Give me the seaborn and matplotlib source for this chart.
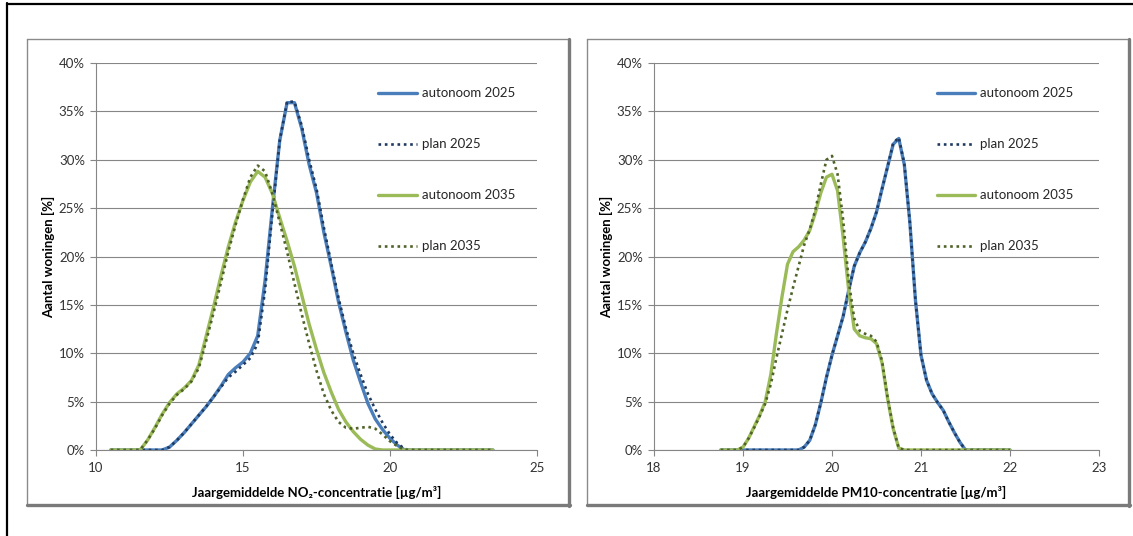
import matplotlib
matplotlib.use("Agg")
import matplotlib.pyplot as plt
from matplotlib.lines import Line2D
from matplotlib.ticker import PercentFormatter, MultipleLocator
import seaborn as sns
import pandas as pd

# NO2: klassen van 0.25 ug/m3 (10.5 .. 23.5)
x_no2 = [10.5 + 0.25 * i for i in range(53)]
no2_auto2025 = [0, 0, 0, 0, 0, 0, 0, 0, 0.3, 1.0, 1.8, 2.7, 3.6, 4.5, 5.5, 6.6, 7.8, 8.5, 9.1, 10.0,
                11.8, 17.5, 25.0, 32.0, 35.9, 35.9, 33.2, 29.5, 26.6, 22.5, 19.0, 15.3, 12.2, 9.3, 7.0, 4.8,
                3.2, 2.1, 1.2, 0.5, 0, 0, 0, 0, 0, 0, 0, 0, 0, 0, 0, 0, 0]
no2_plan2025 = [0, 0, 0, 0, 0, 0, 0, 0, 0.3, 1.0, 1.8, 2.7, 3.6, 4.5, 5.5, 6.5, 7.5, 8.1, 8.8, 9.5,
                11.0, 16.5, 24.5, 32.0, 36.0, 36.0, 33.5, 30.0, 27.0, 23.0, 19.3, 15.7, 12.6, 10.0, 7.8, 5.8,
                4.2, 2.8, 1.6, 0.7, 0.1, 0, 0, 0, 0, 0, 0, 0, 0, 0, 0, 0, 0]
no2_auto2035 = [0, 0, 0, 0, 0, 1.0, 2.3, 3.7, 4.9, 5.8, 6.4, 7.2, 8.8, 11.8, 14.8, 18.0, 21.0, 23.6, 25.8, 27.7,
                28.8, 28.2, 26.5, 24.0, 21.6, 19.0, 16.0, 13.0, 10.4, 8.0, 6.0, 4.2, 2.9, 1.9, 1.1, 0.5,
                0.1, 0, 0, 0, 0, 0, 0, 0, 0, 0, 0, 0, 0, 0, 0, 0, 0]
no2_plan2035 = [0, 0, 0, 0, 0, 1.0, 2.2, 3.6, 4.8, 5.7, 6.3, 7.1, 8.5, 11.3, 14.2, 17.3, 20.5, 23.3, 25.9, 28.2,
                29.4, 28.8, 26.5, 23.5, 20.5, 17.2, 14.0, 11.0, 8.2, 5.8, 4.1, 2.9, 2.3, 2.2, 2.3, 2.4,
                2.2, 1.6, 0.9, 0.4, 0, 0, 0, 0, 0, 0, 0, 0, 0, 0, 0, 0, 0]

# PM10: klassen van 0.0625 ug/m3 (18.75 .. 22.0)
x_pm10 = [18.75 + 0.0625 * i for i in range(53)]
pm10_auto2025 = [0] * 15 + [0.3, 1.0, 2.6, 4.9, 7.5, 9.8, 11.8, 13.8, 16.5, 19.0, 20.4, 21.5, 22.9, 24.6,
                            27.0, 29.3, 31.6, 32.2, 29.5, 23.5, 15.5, 9.8, 7.2, 5.8, 4.9, 4.1, 2.9, 1.8,
                            0.8] + [0] * 9
pm10_plan2025 = [0] * 15 + [0.3, 1.0, 2.6, 4.9, 7.5, 9.8, 11.8, 13.8, 16.5, 19.0, 20.4, 21.5, 22.9, 24.6,
                            27.0, 29.3, 31.7, 32.3, 29.6, 23.5, 15.5, 9.8, 7.2, 5.8, 4.9, 4.1, 2.9, 1.8,
                            0.8] + [0] * 9
pm10_auto2035 = [0] * 4 + [0.3, 1.2, 2.4, 3.6, 5.0, 7.8, 12.0, 15.8, 19.2, 20.5, 21.0, 21.7, 22.7, 24.5,
                           26.6, 28.2, 28.5, 26.8, 22.0, 16.5, 12.5, 11.8, 11.6, 11.5, 11.0, 9.0, 5.3, 2.2,
                           0.2] + [0] * 20
pm10_plan2035 = [0] * 4 + [0.3, 1.2, 2.3, 3.5, 4.8, 6.8, 9.5, 12.0, 14.5, 16.8, 19.0, 21.2, 22.8, 24.8,
                           27.5, 30.0, 30.4, 28.5, 23.8, 17.5, 13.6, 12.3, 12.0, 11.8, 11.2, 9.2, 5.4, 2.3,
                           0.2] + [0] * 20

labels = ["autonoom 2025", "plan 2025", "autonoom 2035", "plan 2035"]
colors = ["#4A7EBB", "#1F3A60", "#9BBB59", "#4F6228"]
styles = ["-", (0, (1, 1.4)), "-", (0, (1, 1.4))]
widths = [2.4, 1.9, 2.4, 1.9]

sns.set_theme(style="white")
plt.rcParams["font.family"] = ["Lato", "DejaVu Sans"]

W, H = 1133, 536
fig = plt.figure(figsize=(W / 100, H / 100), dpi=100)


def fx(px):
    return px / W


def fy(py):
    return 1 - py / H


def frame(x0, y0, x1, y1):
    # lichte rand links/boven, schaduw rechts/onder
    gray = "#8A8A8A"
    fig.add_artist(Line2D([fx(x0), fx(x1)], [fy(y0), fy(y0)], color=gray, lw=1.0))
    fig.add_artist(Line2D([fx(x0), fx(x0)], [fy(y0), fy(y1)], color=gray, lw=1.0))
    fig.add_artist(Line2D([fx(x1), fx(x1)], [fy(y0), fy(y1 + 1)], color="#7A7A7A", lw=2.4))
    fig.add_artist(Line2D([fx(x0), fx(x1 + 1)], [fy(y1), fy(y1)], color="#7A7A7A", lw=2.4))


# buitenkader
fig.add_artist(Line2D([fx(7), fx(7)], [fy(3), 0], color="black", lw=1.6))
fig.add_artist(Line2D([fx(7), 1], [fy(4), fy(4)], color="black", lw=1.6))

frame(27, 39, 569, 505)
frame(587, 39, 1129, 505)

panels = [
    dict(x=x_no2, series=[no2_auto2025, no2_plan2025, no2_auto2035, no2_plan2035],
         left=96, right=537, xlim=(10, 25), step=5, leg_x=0.64,
         xlabel="Jaargemiddelde NO\u2082-concentratie [µg/m³]"),
    dict(x=x_pm10, series=[pm10_auto2025, pm10_plan2025, pm10_auto2035, pm10_plan2035],
         left=654, right=1099, xlim=(18, 23), step=1, leg_x=0.635,
         xlabel="Jaargemiddelde PM10-concentratie [µg/m³]"),
]

for p in panels:
    ax = fig.add_axes([fx(p["left"]), fy(450), (p["right"] - p["left"]) / W, 387 / H])
    df = pd.DataFrame({"x": p["x"]})
    for lab, vals, c, ls, lw in zip(labels, p["series"], colors, styles, widths):
        df[lab] = vals
        sns.lineplot(data=df, x="x", y=lab, ax=ax, color=c, linestyle=ls, lw=lw, label=lab)

    ax.set_xlim(*p["xlim"])
    ax.set_ylim(0, 40)
    ax.xaxis.set_major_locator(MultipleLocator(p["step"]))
    ax.yaxis.set_major_locator(MultipleLocator(5))
    ax.yaxis.set_major_formatter(PercentFormatter(decimals=0))
    ax.yaxis.grid(True, color="#868686", lw=0.8)
    ax.xaxis.grid(False)
    ax.set_axisbelow(True)
    for s in ["top", "right"]:
        ax.spines[s].set_visible(False)
    for s in ["left", "bottom"]:
        ax.spines[s].set_color("#868686")
        ax.spines[s].set_linewidth(0.8)
    ax.tick_params(axis="both", direction="out", length=4, width=0.8, color="#868686",
                   labelsize=9.5, labelcolor="#333333", bottom=True, left=True)
    ax.tick_params(axis="x", pad=5)
    ax.tick_params(axis="y", pad=4)

    ax.set_xlabel(p["xlabel"], fontsize=9.5, fontweight="bold", labelpad=8, color="black")
    ax.set_ylabel("Aantal woningen [%]", fontsize=9.5, fontweight="bold", labelpad=3, color="black")

    ax.legend(loc="upper left", bbox_to_anchor=(p["leg_x"], 0.937), borderaxespad=0, borderpad=0,
              frameon=False, fontsize=9.5, handlelength=2.9, handletextpad=0.4, labelspacing=2.95)

fig.savefig("out.png", dpi=100)
